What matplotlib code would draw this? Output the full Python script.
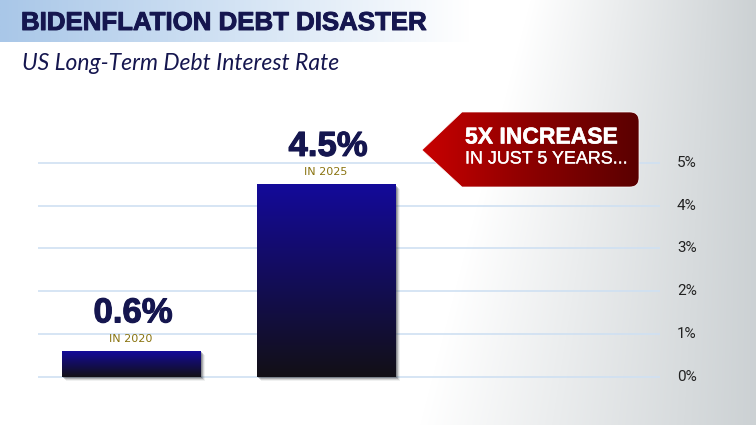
import numpy as np
import matplotlib
matplotlib.use("Agg")
import matplotlib.pyplot as plt
import matplotlib.patheffects as pe
from matplotlib.patches import PathPatch
from matplotlib.path import Path
from matplotlib.colors import LinearSegmentedColormap
from matplotlib.transforms import ScaledTranslation

years = ["IN 2020", "IN 2025"]
values = [0.6, 4.5]
value_labels = ["0.6%", "4.5%"]
ticks = [0, 1, 2, 3, 4, 5]
tick_labels = ["0%", "1%", "2%", "3%", "4%", "5%"]
title = "BIDENFLATION DEBT DISASTER"
subtitle = "US Long-Term Debt Interest Rate"
callout = ["5X INCREASE", "IN JUST 5 YEARS..."]

W, H = 756, 425
NAVY = "#15164f"
fig = plt.figure(figsize=(W/100, H/100), dpi=100)

# page layer in pixel coordinates
bg = fig.add_axes([0, 0, 1, 1], zorder=0)
xx, yy = np.meshgrid(np.arange(W), np.arange(H))
start = 530 - 0.26*yy
t = np.clip((xx - start) / (W - start), 0, 1)
white = np.array([1, 1, 1.0]); grey = np.array([0.80, 0.82, 0.83])
img = white[None, None, :] + (grey - white)[None, None, :] * t[..., None]
bg.imshow(img, extent=[0, W, H, 0], aspect="auto", zorder=0)
banner = LinearSegmentedColormap.from_list("b", ["#a9c7e8", "#d3e3f4", "#ffffff"])
bg.imshow(np.linspace(0, 1, 256)[None, :], extent=[0, 470, 42, 0], aspect="auto", cmap=banner, zorder=1)
bg.set_xlim(0, W); bg.set_ylim(H, 0); bg.axis("off")
bg.text(21, 23, title, fontsize=18.6, fontweight="bold", family="Liberation Sans", color=NAVY, va="center", ha="left", zorder=2,
        path_effects=[pe.withStroke(linewidth=0.7, foreground=NAVY)])
bg.text(22, 63, subtitle, fontsize=16.5, style="italic", family="Lato", color=NAVY, va="center", ha="left", zorder=2)

# chart layer
ax = fig.add_axes([38/W, 1-(376.5+21.4)/H, (660-38)/W, (376.5+21.4-120)/H], zorder=1)
ax.patch.set_alpha(0)
x = np.arange(len(values))
for s in ax.spines.values():
    s.set_visible(False)
ax.set_xticks([])
ax.set_yticks([])
for tk, lab in zip(ticks, tick_labels):
    ax.axhline(tk, color="#cfe0f2", lw=1.2, zorder=1)
    ax.annotate(lab, (1, tk), xycoords=("axes fraction", "data"), xytext=(17, 0), textcoords="offset pixels",
                fontsize=11, family="Roboto", color="#222222", va="center", ha="left", annotation_clip=False)

grad = LinearSegmentedColormap.from_list("g", ["#140a9a", "#121016"])
bars = ax.bar(x, values, width=0.708, color="none", zorder=3)
for b, v, vl, yr in zip(bars, values, value_labels, years):
    x0, w = b.get_x(), b.get_width()
    for off, a in [(1.5, 0.35), (2.5, 0.28), (3.5, 0.16), (4.5, 0.08)]:
        tr = ax.transData + ScaledTranslation(off/100, -off/100, fig.dpi_scale_trans)
        ax.bar(x0 + w/2, v, width=w, color="#4a4e54", alpha=a, lw=0, zorder=2, transform=tr)
    ax.imshow(np.linspace(0, 1, 256)[:, None], extent=[x0, x0+w, 0, v], origin="upper",
              aspect="auto", cmap=grad, zorder=4)
    ax.annotate(yr, (x0+w/2, v), xytext=(0, 12), textcoords="offset pixels", ha="center", va="center",
                fontsize=8, family="DejaVu Sans", color="#8a7410", zorder=5)
    ax.annotate(vl, (x0+w/2, v), xytext=(2, 38), textcoords="offset pixels", ha="center", va="center",
                fontsize=25, fontweight="bold", family="Liberation Sans", color=NAVY, zorder=5,
                path_effects=[pe.withStroke(linewidth=0.8, foreground=NAVY)])
ax.set_xlim(-0.477, 2.713)
ax.set_ylim(-0.5, (376.5-120)/42.7)

# callout layer
top = fig.add_axes([0, 0, 1, 1], zorder=2)
top.set_xlim(0, W); top.set_ylim(H, 0); top.axis("off"); top.patch.set_alpha(0)
r = 9
L, R, T, B, tip, tipy = 462, 639, 112, 187, 422, 150
verts = [(tip, tipy), (L, T), (R-r, T), (R, T), (R, T+r), (R, B-r), (R, B), (R-r, B), (L, B), (tip, tipy)]
codes = [Path.MOVETO, Path.LINETO, Path.LINETO, Path.CURVE3, Path.CURVE3, Path.LINETO, Path.CURVE3, Path.CURVE3, Path.LINETO, Path.CLOSEPOLY]
patch = PathPatch(Path(verts, codes), fc="none", ec="white", lw=0.5, zorder=3)
top.add_patch(patch)
red = LinearSegmentedColormap.from_list("r", ["#c80000", "#8c0000", "#5a0000"])
im = top.imshow(np.linspace(0, 1, 256)[None, :], extent=[tip, R, B, T], aspect="auto", cmap=red, zorder=2)
im.set_clip_path(patch)
top.set_xlim(0, W); top.set_ylim(H, 0)
top.text(465, 137, callout[0], fontsize=16.5, fontweight="bold", family="Liberation Sans", color="white", va="center", ha="left", zorder=4,
         path_effects=[pe.withStroke(linewidth=0.4, foreground="white")])
top.text(465, 159, callout[1], fontsize=12.9, family="Liberation Sans", color="white", va="center", ha="left", zorder=4,
         path_effects=[pe.withStroke(linewidth=0.2, foreground="white")])

fig.savefig("out.png", dpi=100)
